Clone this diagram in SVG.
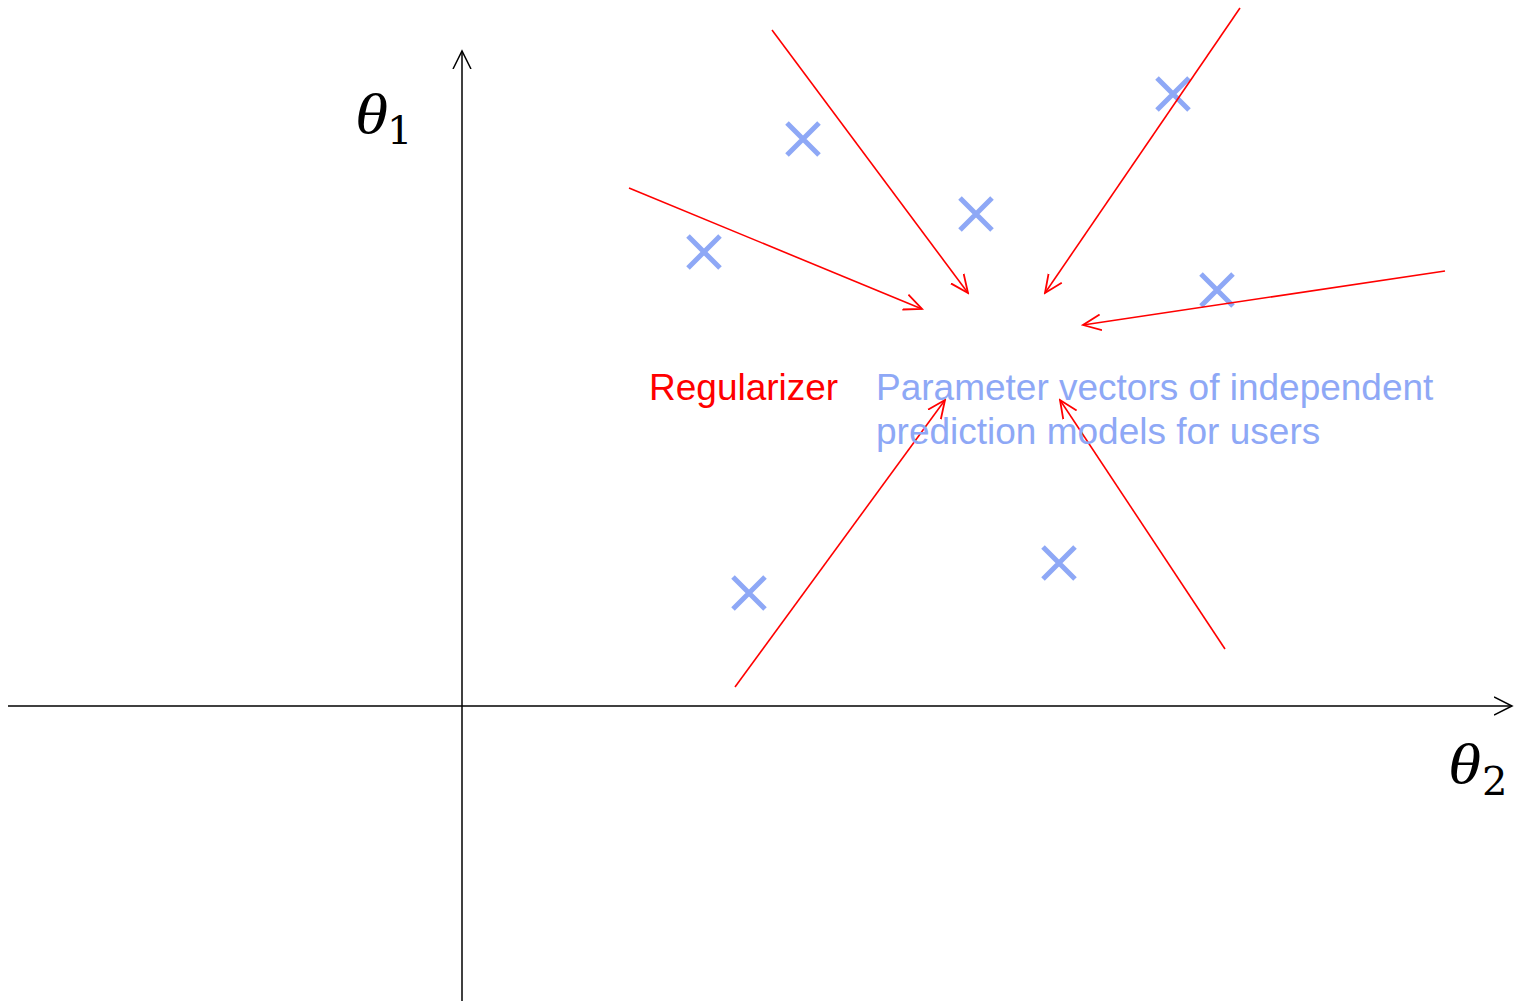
<svg xmlns="http://www.w3.org/2000/svg" width="1514" height="1001" viewBox="0 0 1514 1001">
<style>
.axis{stroke:#000;stroke-width:1.5;fill:none}
.reg{stroke:#ff0000;stroke-width:1.6;fill:none}
.x{stroke:#8EA8F6;stroke-width:5;fill:none}
.lbl{font-family:"Liberation Sans",Arial,sans-serif;font-size:37px}
.th{font-family:"Liberation Serif","Times New Roman",serif;font-style:italic;font-size:56px}
.sub{font-family:"DejaVu Serif","Liberation Serif",serif;font-size:40px}
</style>
<defs>
<marker id="ah" viewBox="0 0 20 20" refX="18" refY="10" markerWidth="20" markerHeight="20" markerUnits="userSpaceOnUse" orient="auto">
<path d="M0,1 L18,10 L0,19" fill="none" stroke="#000" stroke-width="1.5"/>
</marker>
<marker id="ar" viewBox="0 0 20 20" refX="18" refY="10" markerWidth="20" markerHeight="20" markerUnits="userSpaceOnUse" orient="auto">
<path d="M0,2 L18,10 L0,18" fill="none" stroke="#ff0000" stroke-width="1.8"/>
</marker>
</defs>
<g id="axes">
<line class="axis" x1="462" y1="1001" x2="462" y2="51" marker-end="url(#ah)"/>
<line class="axis" x1="8" y1="706" x2="1512" y2="706" marker-end="url(#ah)"/>
<text class="th" transform="translate(355,133) scale(1.2,1)">θ</text>
<text class="sub" x="387" y="144">1</text>
<text class="th" transform="translate(1448,783) scale(1.2,1)">θ</text>
<text class="sub" x="1482" y="795">2</text>
</g>
<g id="points">
<path class="x" d="M787,123 L819,155 M819,123 L787,155"/>
<path class="x" d="M688,236 L720,268 M720,236 L688,268"/>
<path class="x" d="M960,198 L992,230 M992,198 L960,230"/>
<path class="x" d="M1157,78 L1189,110 M1189,78 L1157,110"/>
<path class="x" d="M1201,274 L1233,306 M1233,274 L1201,306"/>
<path class="x" d="M733,577 L765,609 M765,577 L733,609"/>
<path class="x" d="M1043,547 L1075,579 M1075,547 L1043,579"/>
</g>
<g id="connectors">
<line class="reg" x1="629" y1="188" x2="922" y2="309" marker-end="url(#ar)"/>
<line class="reg" x1="772" y1="30" x2="968" y2="293" marker-end="url(#ar)"/>
<line class="reg" x1="1240" y1="8" x2="1045" y2="293" marker-end="url(#ar)"/>
<line class="reg" x1="1445" y1="271" x2="1083" y2="325" marker-end="url(#ar)"/>
<line class="reg" x1="735" y1="687" x2="945" y2="400" marker-end="url(#ar)"/>
<line class="reg" x1="1225" y1="649" x2="1060" y2="400" marker-end="url(#ar)"/>
</g>
<g id="labels">
<text class="lbl" x="649" y="400" fill="#ff0000">Regularizer</text>
<text class="lbl" x="876" y="400" fill="#8EA8F6">Parameter vectors of independent<tspan x="876" dy="44">prediction models for users</tspan></text>
</g>
</svg>
